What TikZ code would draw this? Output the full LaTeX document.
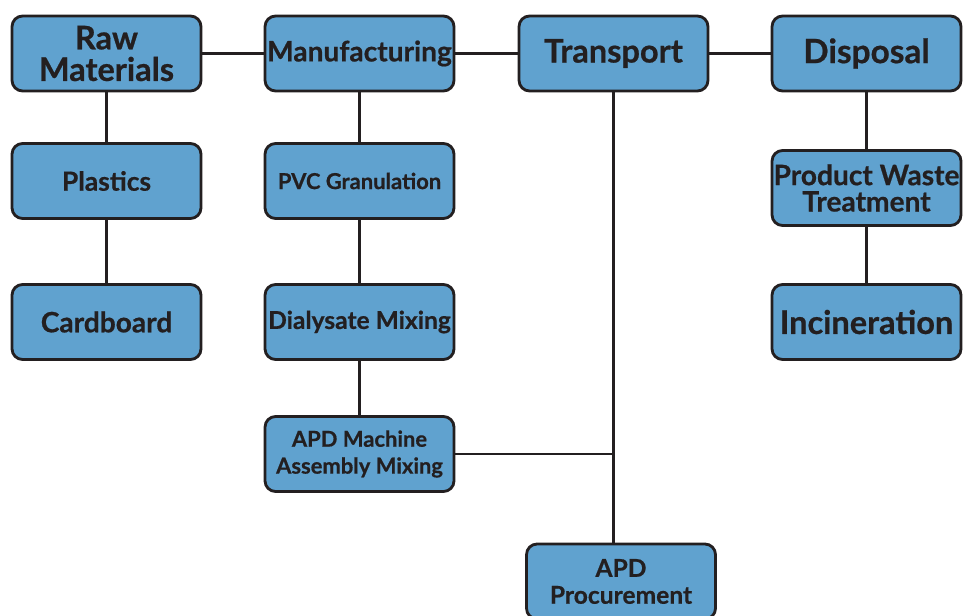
\documentclass[tikz,border=0pt]{standalone}
\usepackage{fontspec}
\setmainfont{Lato}[BoldFeatures={FakeBold=0.6}]
\usetikzlibrary{positioning}
\definecolor{boxblue}{RGB}{96,162,207}
\definecolor{boxline}{RGB}{35,31,32}
\tikzset{% boxes of the life cycle
	stage/.style={shape=rectangle, rounded corners=6pt, draw=boxline, fill=boxblue,
		line width=1.6pt, minimum width=3.78cm, minimum height=1.50cm,
		inner sep=0pt, align=center, text=boxline},
	link/.style={boxline, line width=1.3pt},
	fs/.style 2 args={font=\bfseries\fontsize{#1}{#2}\selectfont},
}

\begin{document}
\begin{tikzpicture}[x=0.02cm, y=-0.02cm]
	\useasboundingbox (0,0) rectangle (963,615);
	% top row
	\node[stage, fs={18.5}{18}] (raw) at (106.5,53.5) {Raw\\Materials};
	\node[stage, fs={16}{18}] (manu) at (359.5,53.5) {Manufacturing};
	\node[stage, fs={18.5}{20}] (trans) at (613.5,53.5) {Transport};
	\node[stage, fs={19}{20}] (disp) at (866.5,53.5) {Disposal};
	% below
	\node[stage, fs={15}{16}] (plast) at (106.5,181) {Plastics};
	\node[stage, fs={16}{16}] (card) at (106.5,322) {Cardboard};
	\node[stage, fs={12.5}{14}] (pvc) at (359.5,181) {PVC Granulation};
	\node[stage, fs={14}{16}] (dial) at (359.5,322) {Dialysate Mixing};
	\node[stage, fs={12.5}{15.3}] (apd) at (359.5,454) {APD Machine\\Assembly Mixing};
	\node[stage, fs={14}{15.3}] (proc) at (621,581.5) {APD\\Procurement};
	\node[stage, fs={16}{15}] (waste) at (866.5,188) {Product Waste\\Treatment};
	\node[stage, fs={18.5}{20}] (incin) at (866.5,322) {Incineration};

	\draw[link] (raw) -- (manu);
	\draw[link] (manu) -- (trans);
	\draw[link] (trans) -- (disp);
	\draw[link] (raw) -- (plast);
	\draw[link] (plast) -- (card);
	\draw[link] (manu) -- (pvc);
	\draw[link] (pvc) -- (dial);
	\draw[link] (dial) -- (apd);
	\draw[link] (trans.south) -- (trans.south |- proc.north);
	\draw[link] (apd) -- (apd -| trans.south);
	\draw[link] (disp) -- (waste);
	\draw[link] (waste) -- (incin);
\end{tikzpicture}
\end{document}
